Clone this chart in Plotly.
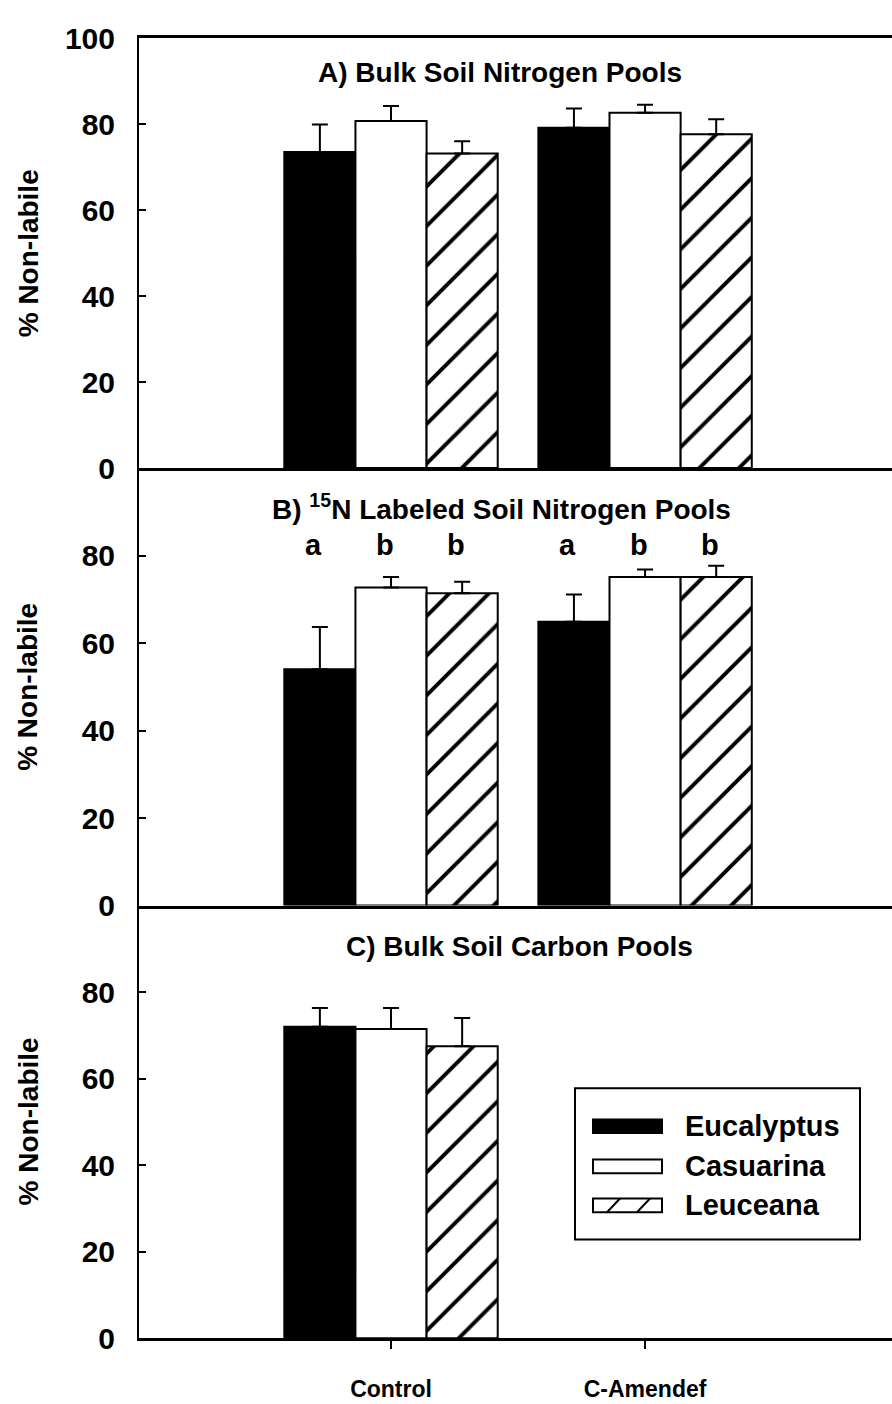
import numpy as np
import plotly.graph_objects as go

# ---- data -------------------------------------------------------------
treatments = ["Control", "C-Amendef"]
species = ["Eucalyptus", "Casuarina", "Leuceana"]

# mean % non-labile, one row per species (Eucalyptus, Casuarina, Leuceana)
bulk_n_mean = [[73.6, 79.2], [80.8, 82.7], [73.2, 77.7]]
bulk_n_err = [[6.4, 4.5], [3.5, 1.9], [2.9, 3.5]]

label_n_mean = [[54.0, 64.9], [72.7, 75.1], [71.4, 75.1]]
label_n_err = [[9.7, 6.2], [2.4, 1.7], [2.6, 2.6]]

bulk_c_mean = [[72.0, None], [71.5, None], [67.5, None]]
bulk_c_err = [[4.3, None], [4.8, None], [6.5, None]]

# significance letters above panel B bars (per treatment, per species)
label_n_letters = [["a", "b", "b"], ["a", "b", "b"]]
letter_level = 82.5

panel_titles = [
    "A) Bulk Soil Nitrogen Pools",
    "B) <sup>15</sup>N Labeled Soil Nitrogen Pools",
    "C) Bulk Soil Carbon Pools",
]
y_title = "% Non-labile"

# ---- layout helpers ---------------------------------------------------
W, H = 892, 1404
FONT = "Liberation Sans, Arial, Helvetica, sans-serif"


def px(x):
    return x / W


def py(y):
    return (H - y) / H


bar_w = 0.28
group_pos = np.arange(1, len(treatments) + 1)
offsets = [(k - 1) * bar_w for k in range(len(species))]

fill_colors = ["black", "white", "white"]

fig = go.Figure()

panels = [
    (bulk_n_mean, bulk_n_err, "x", "y"),
    (label_n_mean, label_n_err, "x2", "y2"),
    (bulk_c_mean, bulk_c_err, "x3", "y3"),
]

for means, errs, xa, ya in panels:
    for k, name in enumerate(species):
        marker = dict(color=fill_colors[k], line=dict(color="black", width=2))
        if name == "Leuceana":
            marker["pattern"] = dict(shape="/", fgcolor="black", bgcolor="white",
                                     size=28, solidity=0.14, fillmode="replace")
        fig.add_trace(go.Bar(
            x=group_pos + offsets[k],
            y=means[k],
            width=bar_w,
            name=name,
            marker=marker,
            error_y=dict(type="data", symmetric=False, array=errs[k],
                         arrayminus=[0] * len(errs[k]),
                         color="black", thickness=2, width=8),
            showlegend=False,
            xaxis=xa, yaxis=ya,
        ))

# ---- axes -------------------------------------------------------------
x_dom = [px(139), 1]
y_doms = [[py(463), py(23)], [py(911), py(463)], [py(1354), py(911)]]
x_range = [0.008, 2.972]

tick_font = dict(family=FONT, size=30, color="black", weight="bold")

common_y = dict(range=[0, 100], showline=True, linecolor="black", linewidth=2,
                ticks="inside", ticklen=7, tickwidth=2, tickcolor="black",
                showgrid=False, zeroline=False, tickfont=tick_font,
                ticklabelstandoff=16)
common_x = dict(range=x_range, domain=x_dom, showline=True, linecolor="black",
                linewidth=2.5, showgrid=False, zeroline=False)

fig.update_layout(
    width=W, height=H, autosize=False,
    margin=dict(l=0, r=0, t=0, b=0, pad=0),
    paper_bgcolor="white", plot_bgcolor="white",
    barmode="overlay",
    xaxis=dict(**common_x, anchor="y", mirror=True, showticklabels=False, ticks=""),
    yaxis=dict(**common_y, domain=y_doms[0], anchor="x",
               tickvals=[0, 20, 40, 60, 80, 100]),
    xaxis2=dict(**common_x, anchor="y2", showticklabels=False, ticks=""),
    yaxis2=dict(**common_y, domain=y_doms[1], anchor="x2",
                tickvals=[0, 20, 40, 60, 80]),
    xaxis3=dict(**common_x, anchor="y3", ticks="outside", ticklen=8, tickwidth=2,
                tickcolor="black", tickvals=list(group_pos), ticktext=treatments,
                tickfont=dict(family=FONT, size=23, color="black", weight="bold"),
                ticklabelstandoff=20),
    yaxis3=dict(**common_y, domain=y_doms[2], anchor="x3",
                tickvals=[0, 20, 40, 60, 80]),
)

# ---- text -------------------------------------------------------------
annotations = []
title_pos = [(500, 58), (501, 503), (519, 953)]
for text, (tx, ty) in zip(panel_titles, title_pos):
    annotations.append(dict(text=text, x=px(tx), y=py(ty), xref="paper", yref="paper",
                            xanchor="center", yanchor="middle", showarrow=False,
                            font=dict(family=FONT, size=28, color="black", weight="bold")))

for cy in [243, 687, 1132]:
    annotations.append(dict(text=y_title, x=px(28), y=py(cy), xref="paper", yref="paper",
                            xanchor="center", yanchor="middle", textangle=-90,
                            showarrow=False,
                            font=dict(family=FONT, size=28, color="black", weight="bold")))

for g, letters in enumerate(label_n_letters):
    for k, letter in enumerate(letters):
        annotations.append(dict(text=letter, x=group_pos[g] + offsets[k], y=letter_level,
                                xref="x2", yref="y2", xshift=-6, showarrow=False,
                                xanchor="center", yanchor="middle",
                                font=dict(family=FONT, size=29, color="black", weight="bold")))

# ---- legend box -------------------------------------------------------
shapes = [dict(type="rect", xref="paper", yref="paper",
               x0=px(575), x1=px(860), y0=py(1253), y1=py(1098),
               line=dict(color="black", width=2), fillcolor="white", layer="above")]
row_y = [1137, 1178, 1218]
for k, name in enumerate(species):
    cy = row_y[k]
    shapes.append(dict(type="rect", xref="paper", yref="paper",
                       x0=px(593), x1=px(662), y0=py(cy + 7), y1=py(cy - 7),
                       line=dict(color="black", width=2), fillcolor=fill_colors[k],
                       layer="above"))
    if name == "Leuceana":
        for hx in [607, 637]:
            shapes.append(dict(type="line", xref="paper", yref="paper",
                               x0=px(hx), y0=py(cy + 7), x1=px(hx + 13), y1=py(cy - 7),
                               line=dict(color="black", width=2), layer="above"))
    annotations.append(dict(text=name, x=px(683), y=py(cy), xref="paper", yref="paper",
                            xanchor="left", yanchor="middle", showarrow=False,
                            font=dict(family=FONT, size=29, color="black", weight="bold")))

fig.update_layout(annotations=annotations, shapes=shapes)

fig.write_html("out.html")
